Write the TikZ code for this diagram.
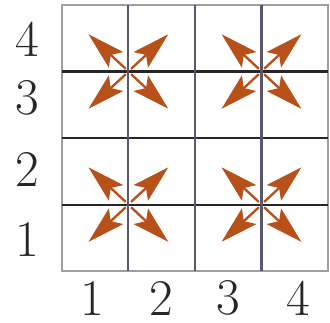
\documentclass[tikz,border=0pt]{standalone}
\usepackage{tikz}
\usetikzlibrary{positioning,arrows.meta,calc}
\definecolor{rust}{RGB}{184,80,26}
\definecolor{slate}{RGB}{88,88,108}

\begin{document}
\begin{tikzpicture}[
  cell/.style={draw=gray!75, line width=0.9pt},
  hrule/.style={draw=black!85, line width=0.9pt},
  vrule/.style={draw=slate, line width=0.9pt},
  num/.style={font=\fontsize{22}{26}\selectfont, text=black!85, inner sep=0pt},
  spread/.style={draw=rust, line width=1pt,
                 -{Stealth[length=16pt, width=9pt, inset=3pt, fill=rust]}}
]
  \useasboundingbox (-0.93,-0.77) rectangle (4.03,4.075);

  % grid
  \draw[cell] (0,0) rectangle (4,4);
  \draw[hrule] (0,1) -- (4,1);
  \draw[hrule] (0,2) -- (4,2);
  \draw[hrule] (0,3) -- (4,3);
  \draw[vrule] (1,0) -- (1,4);
  \draw[vrule] (2,0) -- (2,4);
  \draw[vrule] (3,0) -- (3,4);

  % axis numbers
  \node[num] (r1) at (-0.52,0.48) {1};
  \node[num] (r2) at (-0.52,1.52) {2};
  \node[num] (r3) at (-0.52,2.6)  {3};
  \node[num] (r4) at (-0.52,3.48) {4};
  \node[num] (c1) at (0.45,-0.41) {1};
  \node[num] (c2) at (1.49,-0.41) {2};
  \node[num] (c3) at (2.5,-0.41)  {3};
  \node[num] (c4) at (3.56,-0.41) {4};

  % outward moves from each block centre
  \foreach \cx/\cy [count=\k] in {1/1, 3/1, 1/3, 3/3} {
    \coordinate (m\k) at (\cx,\cy);
    \foreach \dx/\dy [count=\d] in {-1/1, 1/1, -1/-1, 1/-1} {
      \coordinate (s\k\d) at ($(m\k)+(0.04*\dx,0.04*\dy)$);
      \coordinate (t\k\d) at ($(m\k)+(0.6*\dx,0.56*\dy)$);
      \draw[spread] (s\k\d) -- (t\k\d);
    }
  }
\end{tikzpicture}
\end{document}
